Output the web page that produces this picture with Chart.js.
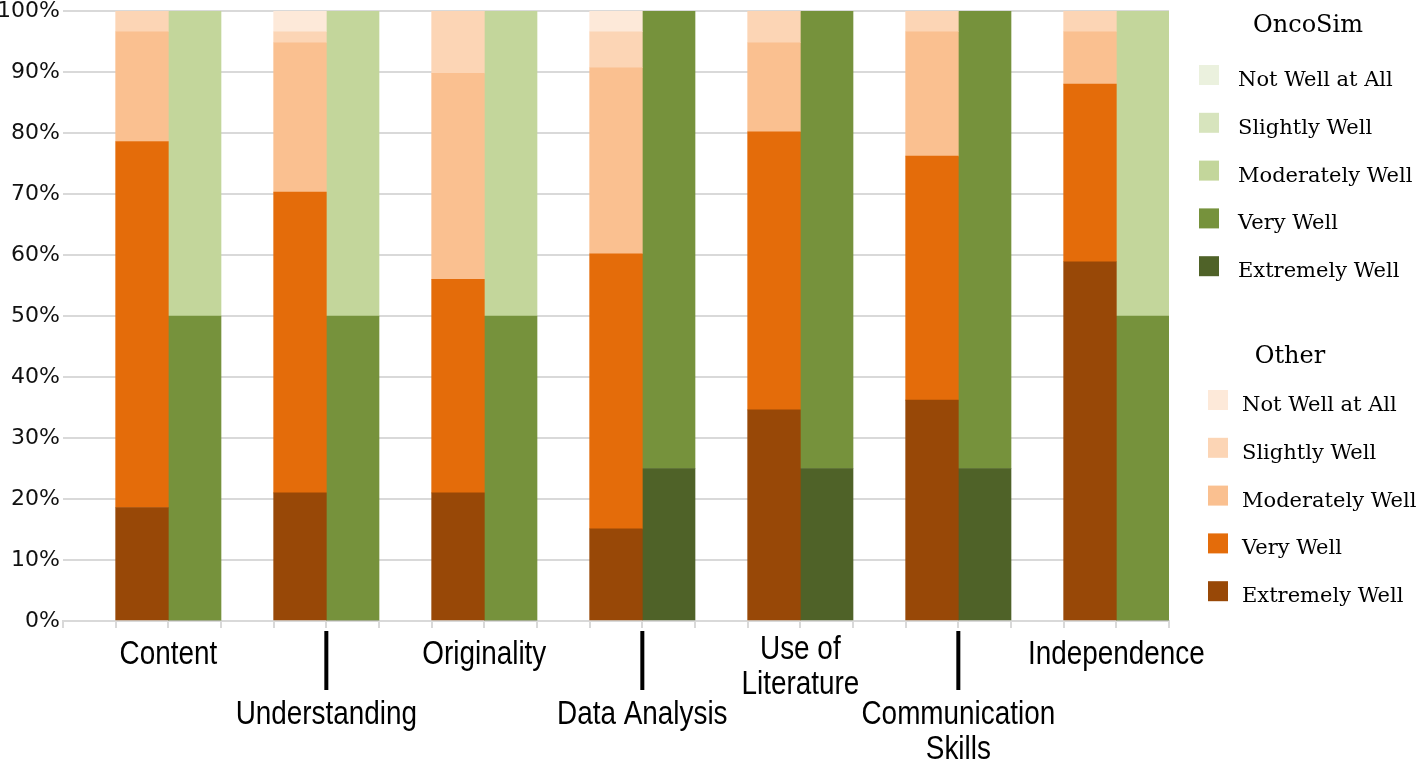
<!DOCTYPE html>
<html>
<head>
<meta charset="utf-8">
<title>OncoSim vs Other</title>
<script src="https://cdn.jsdelivr.net/npm/chart.js@4"></script>
<style>
  html, body { margin: 0; padding: 0; background: #fff; }
</style>
</head>
<body>
<canvas id="ratingChart" width="1418" height="759"></canvas>
<script>
const categories = ['Content', 'Understanding', 'Originality', 'Data Analysis',
    ['Use of', 'Literature'], ['Communication', 'Skills'], 'Independence'];
// stacking order, bottom to top
const levels = ['Extremely Well', 'Very Well', 'Moderately Well', 'Slightly Well', 'Not Well at All'];

// "Other" group, percent of responses
const otherExtremely  = [18.6, 21.0, 21.0, 15.1, 34.6, 36.2, 58.9];
const otherVery       = [60.0, 49.3, 35.0, 45.1, 45.6, 40.0, 29.1];
const otherModerately = [18.0, 24.5, 33.8, 30.5, 14.6, 20.4, 8.6];
const otherSlightly   = [3.4, 1.8, 10.2, 5.9, 5.2, 3.4, 3.4];
const otherNotAtAll   = [0, 3.4, 0, 3.4, 0, 0, 0];

// OncoSim group, percent of responses
const oncoExtremely  = [0, 0, 0, 25, 25, 25, 0];
const oncoVery       = [50, 50, 50, 75, 75, 75, 50];
const oncoModerately = [50, 50, 50, 0, 0, 0, 50];
const oncoSlightly   = [0, 0, 0, 0, 0, 0, 0];
const oncoNotAtAll   = [0, 0, 0, 0, 0, 0, 0];

const Y_MAX = 100;
const Y_STEP = 10;

const otherColors = ['#984807', '#e46c0a', '#fac090', '#fcd5b5', '#fde9d9'];
const oncoColors  = ['#4f6228', '#76923c', '#c3d69b', '#d7e4bd', '#ebf1de'];

const otherSeries = [otherExtremely, otherVery, otherModerately, otherSlightly, otherNotAtAll];
const oncoSeries  = [oncoExtremely, oncoVery, oncoModerately, oncoSlightly, oncoNotAtAll];

// each category takes 3 slots on the axis: blank, Other, OncoSim
const SLOT_COUNT = categories.length * 3;

function toSlots(values, offset) {
    const out = new Array(SLOT_COUNT).fill(null);
    values.forEach((v, i) => { out[i * 3 + offset] = v; });
    return out;
}

const slotLabels = [];
categories.forEach((c) => {
    const name = Array.isArray(c) ? c.join(' ') : c;
    slotLabels.push('', name + ' (Other)', name + ' (OncoSim)');
});

const datasets = [];
levels.forEach((level, k) => {
    datasets.push({
        label: 'Other: ' + level,
        data: toSlots(otherSeries[k], 1),
        backgroundColor: otherColors[k]
    });
});
levels.forEach((level, k) => {
    datasets.push({
        label: 'OncoSim: ' + level,
        data: toSlots(oncoSeries[k], 2),
        backgroundColor: oncoColors[k]
    });
});

function drawNarrowText(ctx, text, x, y) {
    ctx.save();
    ctx.translate(x, y);
    ctx.scale(0.82, 1);
    ctx.font = '34px "Liberation Sans", Arial, sans-serif';
    ctx.textAlign = 'center';
    ctx.textBaseline = 'alphabetic';
    ctx.fillText(text, 0, 0);
    ctx.restore();
}

function drawLegendGroup(ctx, title, colors, titleX, titleBase, swatchX, textX, firstBase) {
    ctx.fillStyle = '#000';
    ctx.font = '24px "DejaVu Serif", serif';
    ctx.textAlign = 'center';
    ctx.textBaseline = 'alphabetic';
    ctx.fillText(title, titleX, titleBase);

    ctx.font = '21px "DejaVu Serif", serif';
    ctx.textAlign = 'left';
    for (let k = levels.length - 1; k >= 0; k--) {
        const row = levels.length - 1 - k;
        const base = firstBase + row * 47.8;
        ctx.fillStyle = colors[k];
        ctx.fillRect(swatchX, base - 21, 20, 20);
        ctx.fillStyle = '#000';
        ctx.fillText(levels[k], textX, base);
    }
}

const labelsPlugin = {
    id: 'labelsAndLegend',
    afterDraw(chart) {
        const ctx = chart.ctx;
        const xScale = chart.scales.x;
        const bottom = chart.chartArea.bottom;

        ctx.save();
        ctx.fillStyle = '#000';
        categories.forEach((cat, i) => {
            const cx = (xScale.getPixelForValue(i * 3 + 1) + xScale.getPixelForValue(i * 3 + 2)) / 2;
            const lower = i % 2 === 1;
            const lines = Array.isArray(cat) ? cat : [cat];
            let base = bottom + (lower ? 103 : (lines.length > 1 ? 38 : 43));
            lines.forEach((line) => {
                drawNarrowText(ctx, line, cx, base);
                base += 35;
            });
            if (lower) {
                ctx.fillRect(cx - 2, bottom + 10, 4, 59);
            }
        });

        drawLegendGroup(ctx, 'OncoSim', oncoColors, 1308, 32, 1199, 1238, 86);
        drawLegendGroup(ctx, 'Other', otherColors, 1290, 363, 1208, 1242, 411);
        ctx.restore();
    }
};

new Chart(document.getElementById('ratingChart').getContext('2d'), {
    type: 'bar',
    data: {
        labels: slotLabels,
        datasets: datasets
    },
    options: {
        responsive: false,
        animation: false,
        layout: { padding: { top: 11, right: 249, bottom: 0, left: 0 } },
        datasets: {
            bar: { barPercentage: 1, categoryPercentage: 1, borderWidth: 0 }
        },
        plugins: {
            legend: { display: false },
            tooltip: { enabled: false }
        },
        scales: {
            x: {
                stacked: true,
                ticks: { display: false },
                grid: {
                    drawOnChartArea: false,
                    drawTicks: true,
                    tickLength: 7,
                    color: '#d9d9d9',
                    lineWidth: 2,
                    offset: true
                },
                border: { display: true, color: '#d9d9d9', width: 2 },
                afterFit: (scale) => { scale.height = 138; }
            },
            y: {
                stacked: true,
                min: 0,
                max: Y_MAX,
                ticks: {
                    stepSize: Y_STEP,
                    padding: 3,
                    color: '#111',
                    font: { family: 'DejaVu Sans', size: 22, lineHeight: 0.6 },
                    callback: (value) => value + '%'
                },
                grid: { color: '#d9d9d9', lineWidth: 2, drawTicks: false },
                border: { display: false },
                afterFit: (scale) => { scale.width = 63; }
            }
        }
    },
    plugins: [labelsPlugin]
});
</script>
</body>
</html>
